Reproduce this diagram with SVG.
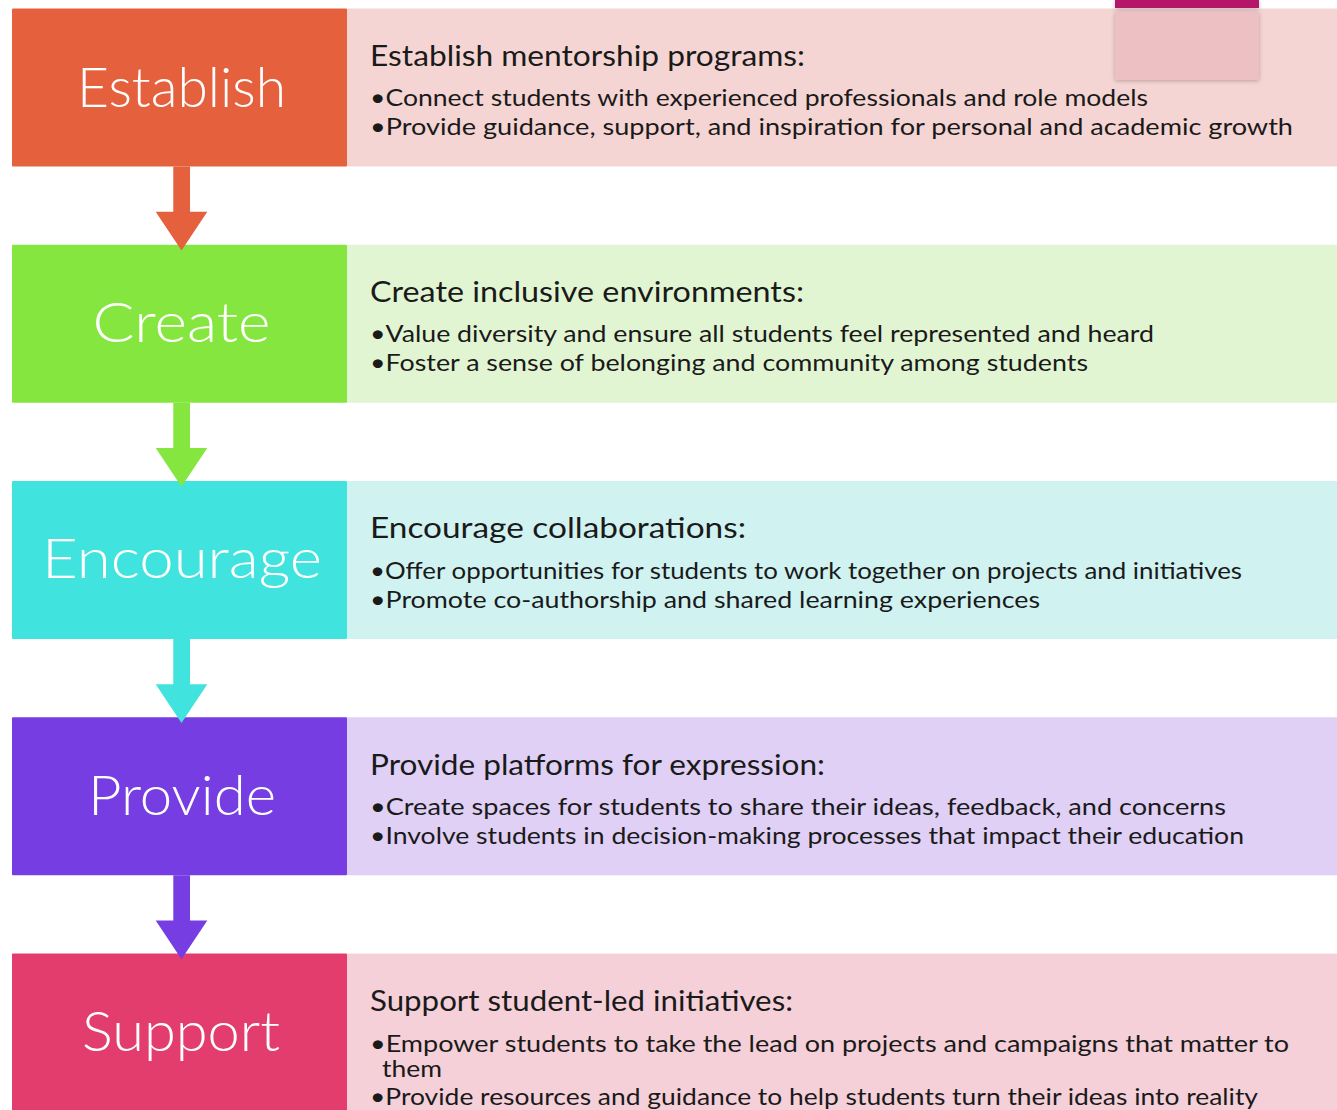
<svg xmlns="http://www.w3.org/2000/svg" width="1337" height="1110" viewBox="0 0 1337 1110">
<defs>
<style>
.title{font-family:Lato,"Noto Sans","DejaVu Sans",sans-serif;font-size:56px;fill:#ffffff;text-anchor:middle;font-weight:300}
.head{font-family:Lato,"Noto Sans","DejaVu Sans",sans-serif;font-size:28px;fill:#1a1a1a}
.bul{font-family:Lato,"Noto Sans","DejaVu Sans",sans-serif;font-size:24px;fill:#1a1a1a}
</style>
<filter id="sh" x="-10%" y="-50%" width="120%" height="200%">
<feGaussianBlur in="SourceAlpha" stdDeviation="2"/>
<feOffset dx="0" dy="1" result="b"/>
<feComponentTransfer><feFuncA type="linear" slope="0.25"/></feComponentTransfer>
<feMerge><feMergeNode/><feMergeNode in="SourceGraphic"/></feMerge>
</filter>
</defs>
<rect width="1337" height="1110" fill="#ffffff"/>

<g id="establish">
<rect x="12" y="8.5" width="335" height="158" rx="1" fill="#e5603d"/>
<rect x="347" y="8.5" width="990" height="158" fill="#f5d5d3"/>
<text class="title" x="181.5" y="107" textLength="209" lengthAdjust="spacingAndGlyphs">Establish</text>
<text class="head" x="370" y="65.5" textLength="435" lengthAdjust="spacingAndGlyphs">Establish mentorship programs:</text>
<text class="bul" x="370" y="105.5" textLength="778" lengthAdjust="spacingAndGlyphs">•Connect students with experienced professionals and role models</text>
<text class="bul" x="370" y="134.5" textLength="923" lengthAdjust="spacingAndGlyphs">•Provide guidance, support, and inspiration for personal and academic growth</text>
</g>

<g id="create">
<rect x="12" y="244.8" width="335" height="158" rx="1" fill="#86e640"/>
<rect x="347" y="244.8" width="990" height="158" fill="#e2f5d3"/>
<text class="title" x="181.5" y="342" textLength="178" lengthAdjust="spacingAndGlyphs">Create</text>
<text class="head" x="370" y="302" textLength="434" lengthAdjust="spacingAndGlyphs">Create inclusive environments:</text>
<text class="bul" x="370" y="342" textLength="784" lengthAdjust="spacingAndGlyphs">•Value diversity and ensure all students feel represented and heard</text>
<text class="bul" x="370" y="371" textLength="718" lengthAdjust="spacingAndGlyphs">•Foster a sense of belonging and community among students</text>
</g>

<g id="encourage">
<rect x="12" y="481" width="335" height="158" rx="1" fill="#40e3dd"/>
<rect x="347" y="481" width="990" height="158" fill="#d0f3f2"/>
<text class="title" x="182" y="578" textLength="280" lengthAdjust="spacingAndGlyphs">Encourage</text>
<text class="head" x="370" y="538" textLength="376" lengthAdjust="spacingAndGlyphs">Encourage collaborations:</text>
<text class="bul" x="370" y="578.5" textLength="872" lengthAdjust="spacingAndGlyphs">•Offer opportunities for students to work together on projects and initiatives</text>
<text class="bul" x="370" y="607.5" textLength="670" lengthAdjust="spacingAndGlyphs">•Promote co-authorship and shared learning experiences</text>
</g>

<g id="provide">
<rect x="12" y="717.3" width="335" height="158" rx="1" fill="#763de3"/>
<rect x="347" y="717.3" width="990" height="158" fill="#e0d0f5"/>
<text class="title" x="182" y="815" textLength="188" lengthAdjust="spacingAndGlyphs">Provide</text>
<text class="head" x="370" y="774.5" textLength="455" lengthAdjust="spacingAndGlyphs">Provide platforms for expression:</text>
<text class="bul" x="370" y="814.5" textLength="856" lengthAdjust="spacingAndGlyphs">•Create spaces for students to share their ideas, feedback, and concerns</text>
<text class="bul" x="370" y="844" textLength="874" lengthAdjust="spacingAndGlyphs">•Involve students in decision-making processes that impact their education</text>
</g>

<g id="support">
<rect x="12" y="953.6" width="335" height="160" rx="1" fill="#e33d6e"/>
<rect x="347" y="953.6" width="990" height="160" fill="#f5d0d9"/>
<text class="title" x="181" y="1050.5" textLength="198" lengthAdjust="spacingAndGlyphs">Support</text>
<text class="head" x="370" y="1011" textLength="423" lengthAdjust="spacingAndGlyphs">Support student-led initiatives:</text>
<text class="bul" x="370" y="1052" textLength="919" lengthAdjust="spacingAndGlyphs">•Empower students to take the lead on projects and campaigns that matter to</text>
<text class="bul" x="382" y="1076.5" textLength="60" lengthAdjust="spacingAndGlyphs">them</text>
<text class="bul" x="370" y="1105" textLength="888" lengthAdjust="spacingAndGlyphs">•Provide resources and guidance to help students turn their ideas into reality</text>
</g>

<g id="connectors">
<path d="M173.3 166.5 H190 V211.7 H207.3 L181.5 250.5 L155.7 211.7 H173.3 Z" fill="#e5603d"/>
<path d="M173.3 402.8 H190 V448 H207.3 L181.5 486.8 L155.7 448 H173.3 Z" fill="#86e640"/>
<path d="M173.3 639 H190 V684.2 H207.3 L181.5 723 L155.7 684.2 H173.3 Z" fill="#40e3dd"/>
<path d="M173.3 875.3 H190 V920.5 H207.3 L181.5 959.3 L155.7 920.5 H173.3 Z" fill="#763de3"/>
</g>

<g id="corner-shape">
<rect x="1115" y="0" width="144" height="8" fill="#b5126a" filter="url(#sh)"/>
<rect x="1115" y="12" width="144" height="68" fill="#edc0c3" filter="url(#sh)"/>
</g>
</svg>
